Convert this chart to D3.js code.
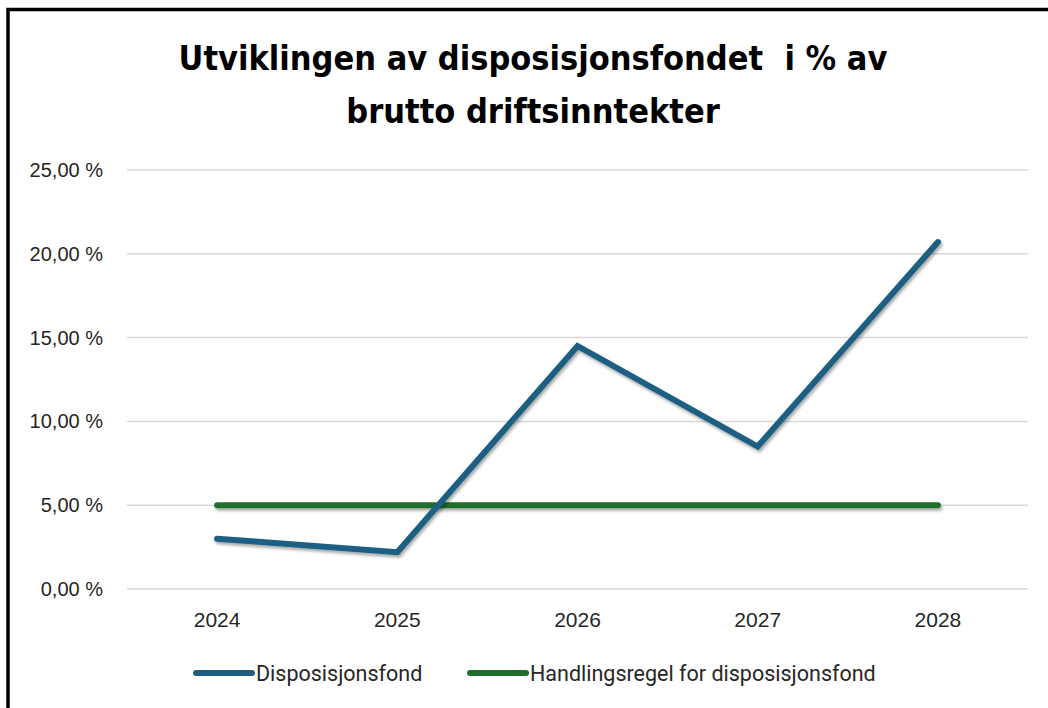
<!DOCTYPE html>
<html>
<head>
<meta charset="utf-8">
<script src="https://cdn.jsdelivr.net/npm/d3@7"></script>
<style>
  body { margin: 0; background: #fff; }
  svg { display: block; }
</style>
</head>
<body>
<div id="chart"></div>
<script>
// data
const years = ["2024", "2025", "2026", "2027", "2028"]
const dispFond = [3.0, 2.2, 14.5, 8.5, 20.7]
const handlingsregel = [5, 5, 5, 5, 5]
const yTicks = [0, 5, 10, 15, 20, 25]
const seriesNames = ["Disposisjonsfond", "Handlingsregel for disposisjonsfond"]
const colors = ["#1b5e82", "#1f6e2b"]

const w = 1048
const h = 708
const plot = {left: 127, right: 1028, top: 170, bottom: 589}

const svg = d3.select("#chart").append("svg")
    .attr("width", w)
    .attr("height", h)

// drop shadow for lines (user space, so the flat line still gets it)
const defs = svg.append("defs")
const f = defs.append("filter").attr("id", "shadow")
    .attr("filterUnits", "userSpaceOnUse")
    .attr("x", 0).attr("y", 0).attr("width", w).attr("height", h)
f.append("feDropShadow")
    .attr("dx", 1.5).attr("dy", 2.5).attr("stdDeviation", 1.8)
    .attr("flood-color", "#000").attr("flood-opacity", 0.35)

// outer border (runs past right/bottom edge)
svg.append("rect")
    .attr("x", 8).attr("y", 9.5)
    .attr("width", w + 20).attr("height", h + 20)
    .attr("fill", "#fff")
    .attr("stroke", "#000")
    .attr("stroke-width", 3.5)

// title
const title = svg.append("text")
    .attr("text-anchor", "middle")
    .attr("font-family", "'Liberation Sans Narrow', 'DejaVu Sans Condensed', Roboto, sans-serif")
    .attr("font-weight", "bold")
    .attr("font-size", "34px")
    .attr("fill", "#000")
    .style("white-space", "pre")
title.append("tspan").attr("x", 533).attr("y", 70).text("Utviklingen av disposisjonsfondet  i % av")
title.append("tspan").attr("x", 533).attr("y", 123).text("brutto driftsinntekter")

// scales
const x = d3.scaleBand()
    .domain(years)
    .range([plot.left, plot.right])

const y = d3.scaleLinear()
    .domain([0, 25])
    .range([plot.bottom, plot.top])

// gridlines
svg.append("g")
    .selectAll("line")
    .data(yTicks)
    .enter().append("line")
    .attr("x1", plot.left).attr("x2", plot.right)
    .attr("y1", d => y(d)).attr("y2", d => y(d))
    .attr("stroke", "#d9d9d9")
    .attr("stroke-width", 1.5)

// y axis
const yAxis = svg.append("g")
    .attr("transform", "translate(" + 103 + ",0)")
    .call(d3.axisLeft(y).tickValues(yTicks).tickSize(0).tickPadding(0)
        .tickFormat(d => d.toFixed(2).replace(".", ",") + " %"))
yAxis.select(".domain").remove()
yAxis.selectAll("text")
    .attr("font-family", "'Liberation Sans', Arial, sans-serif")
    .attr("font-size", "20px")
    .attr("fill", "#262626")

// x axis
const xAxis = svg.append("g")
    .attr("transform", "translate(0," + plot.bottom + ")")
    .call(d3.axisBottom(x).tickSize(0).tickPadding(0))
xAxis.select(".domain").remove()
xAxis.selectAll("text")
    .attr("y", 38)
    .attr("dy", 0)
    .attr("font-family", "'Liberation Sans', Arial, sans-serif")
    .attr("font-size", "21px")
    .attr("fill", "#262626")

// lines
const line = d3.line()
    .x((d, i) => x(years[i]) + x.bandwidth() / 2)
    .y(d => y(d))

const series = [handlingsregel, dispFond]
const seriesColors = [colors[1], colors[0]]
svg.append("g")
    .selectAll("path")
    .data(series)
    .enter().append("path")
    .attr("d", d => line(d))
    .attr("fill", "none")
    .attr("stroke", (d, i) => seriesColors[i])
    .attr("stroke-width", 6)
    .attr("stroke-linecap", "round")
    .attr("stroke-linejoin", "miter")
    .attr("filter", "url(#shadow)")

// legend
const legendItems = [
    {name: seriesNames[0], color: colors[0], x: 196},
    {name: seriesNames[1], color: colors[1], x: 470}
]
const legend = svg.append("g")
legend.selectAll("line")
    .data(legendItems)
    .enter().append("line")
    .attr("x1", d => d.x).attr("x2", d => d.x + 56)
    .attr("y1", 673).attr("y2", 673)
    .attr("stroke", d => d.color)
    .attr("stroke-width", 6)
    .attr("stroke-linecap", "round")
legend.selectAll("text")
    .data(legendItems)
    .enter().append("text")
    .attr("x", d => d.x + 60)
    .attr("y", 681)
    .attr("font-family", "Roboto, sans-serif")
    .attr("font-size", "21.5px")
    .attr("fill", "#262626")
    .text(d => d.name)
</script>
</body>
</html>
